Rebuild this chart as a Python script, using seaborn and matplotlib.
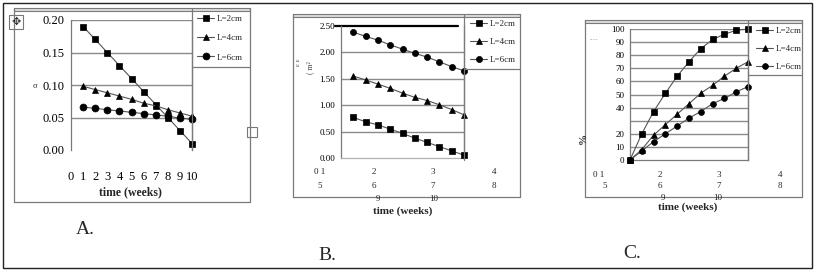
import numpy as np
import pandas as pd
import matplotlib
matplotlib.use("Agg")
import matplotlib.pyplot as plt
import seaborn as sns
from matplotlib.lines import Line2D
from matplotlib.patches import Rectangle

# ---------------- data ----------------
weeks = [1, 2, 3, 4, 5, 6, 7, 8, 9, 10]
series_labels = ["L=2cm", "L=4cm", "L=6cm"]

a_L2 = [0.19, 0.17, 0.15, 0.13, 0.11, 0.09, 0.07, 0.05, 0.03, 0.01]
a_L4 = [0.098, 0.093, 0.088, 0.083, 0.078, 0.072, 0.068, 0.062, 0.057, 0.052]
a_L6 = [0.066, 0.064, 0.062, 0.060, 0.058, 0.056, 0.054, 0.052, 0.049, 0.047]

b_L2 = [0.77, 0.69, 0.63, 0.55, 0.47, 0.38, 0.30, 0.22, 0.14, 0.06]
b_L4 = [1.55, 1.48, 1.40, 1.32, 1.23, 1.15, 1.09, 1.01, 0.92, 0.82]
b_L6 = [2.38, 2.30, 2.23, 2.14, 2.06, 1.98, 1.91, 1.82, 1.73, 1.65]

c_weeks = [0, 1, 2, 3, 4, 5, 6, 7, 8, 9, 10]
c_L2 = [0, 20, 37, 51, 64, 75, 85, 92, 96, 99, 100]
c_L4 = [0, 8, 19, 27, 35, 43, 51, 57, 64, 70, 75]
c_L6 = [0, 7, 14, 20, 26, 32, 37, 43, 47, 52, 56]

a_xticks = [0, 1, 2, 3, 4, 5, 6, 7, 8, 9, 10]
a_yticks = [0.00, 0.05, 0.10, 0.15, 0.20]
b_yticks = [0.0, 0.5, 1.0, 1.5, 2.0, 2.5]
c_yticks = [0, 10, 20, 30, 40, 50, 60, 70, 80, 90, 100]
c_yticklabels = ["0", "10", "20", "", "40", "50", "60", "70", "80", "90", "100"]
garbled_row1 = ["0 1", "2", "3", "4"]
garbled_row2 = ["5", "6", "7", "8"]
garbled_row3 = ["9", "10"]

# ---------------- setup ----------------
sns.set_theme(style="white")
plt.rcParams["font.family"] = ["Liberation Serif", "DejaVu Sans"]

W, H = 818, 272
fig = plt.figure(figsize=(W / 100, H / 100), dpi=100)
fig.patch.set_facecolor("white")

GRID = "#8a8a8a"
FRAME = "#7a7a7a"
LINEC = "#555555"


def fx(px):
    return px / W


def fy(py):
    return 1 - py / H


def add_ax(l, t, r, b):
    return fig.add_axes([l / W, 1 - b / H, (r - l) / W, (b - t) / H])


def fline(x0, y0, x1, y1, color=FRAME, lw=0.9):
    fig.add_artist(Line2D([fx(x0), fx(x1)], [fy(y0), fy(y1)],
                          transform=fig.transFigure, color=color, lw=lw))


def frame(l, t, r, b):
    fig.add_artist(Rectangle((fx(l), fy(t + 3)), (r - l) / W, 3 / H,
                             transform=fig.transFigure, facecolor="#dcdcdc",
                             edgecolor=FRAME, lw=0.8))
    fline(l, t, l, b)
    fline(l, b, r, b)
    fline(r, t, r, b)


def draw_series(ax, x, ys, ms):
    markers = ["s", "^", "o"]
    for y, m, lab in zip(ys, markers, series_labels):
        sns.lineplot(x=x, y=y, ax=ax, marker=m, color=LINEC, lw=0.8,
                     markerfacecolor="black", markeredgecolor="black",
                     markeredgewidth=0.5, markersize=ms, label=lab,
                     legend=False, clip_on=False, zorder=3)


def style_ax(ax, fs):
    ax.set_facecolor("none")
    ax.grid(False)
    for s in ax.spines.values():
        s.set_color(FRAME)
        s.set_linewidth(0.9)
    ax.spines["top"].set_visible(False)
    ax.tick_params(axis="both", labelsize=fs, colors="black", length=4,
                   width=0.8, color=GRID, direction="out")
    ax.set_xlabel("")
    ax.set_ylabel("")


def legend_at(ax, x, y, fs, spacing):
    h, l = ax.get_legend_handles_labels()
    ax.legend(h, l, loc="upper left", bbox_to_anchor=(fx(x), fy(y)),
              bbox_transform=fig.transFigure, frameon=False, fontsize=fs,
              borderpad=0, borderaxespad=0, handlelength=1.9,
              handletextpad=0.25, labelspacing=spacing)


# outer border
fig.add_artist(Rectangle((fx(3), fy(268)), (812 - 3) / W, (268 - 3) / H,
                         transform=fig.transFigure, facecolor="none",
                         edgecolor="#222222", lw=1.0))

# ---------------- panel A ----------------
frame(14, 8, 250, 202)
axA = add_ax(71, 20, 192, 150)
draw_series(axA, weeks, [a_L2, a_L4, a_L6], 5.0)
axA.set_xlim(0, 10)
axA.set_ylim(0, 0.2)
axA.set_xticks(a_xticks)
axA.set_yticks(a_yticks)
axA.set_yticklabels([f"{v:.2f}" for v in a_yticks])
for v in a_yticks[1:]:
    axA.axhline(v, color=GRID, lw=1.0, zorder=0)
style_ax(axA, 9)
axA.spines["bottom"].set_visible(False)
axA.tick_params(axis="x", length=0, pad=15)
axA.tick_params(axis="y", pad=1)
legend_at(axA, 197, 15, 6.5, 1.2)
fline(192, 8, 192, 150)
fline(192, 67, 250, 67)
fig.text(fx(35), fy(86), "σ", fontsize=6, ha="center", va="center")
fig.text(fx(130), fy(192), "time (weeks)", fontsize=8.5, fontweight="bold",
         ha="center", va="center")
fig.text(fx(85), fy(230), "A.", fontsize=14, ha="center", va="center")
# table handle icon and resize handle
fig.add_artist(Rectangle((fx(9), fy(29)), 14 / W, 14 / H,
                         transform=fig.transFigure, facecolor="white",
                         edgecolor="#777777", lw=0.8))
fig.text(fx(16), fy(22), "✥", fontsize=8, ha="center", va="center",
         family=["DejaVu Sans"], color="#333333")
fig.add_artist(Rectangle((fx(247), fy(137)), 10 / W, 10 / H,
                         transform=fig.transFigure, facecolor="white",
                         edgecolor="#777777", lw=0.8))

# ---------------- panel B ----------------
frame(293, 14, 520, 197)
axB = add_ax(341, 25.8, 464, 158.3)
draw_series(axB, weeks, [b_L2, b_L4, b_L6], 4.4)
axB.set_xlim(0, 10)
axB.set_ylim(0, 2.5)
axB.set_yticks(b_yticks)
axB.set_yticklabels([f"{v:.2f}" for v in b_yticks])
axB.set_xticks([])
for v in b_yticks[1:-1]:
    axB.axhline(v, color=GRID, lw=1.0, zorder=0)
axB.plot([-0.5, 9.5], [2.5, 2.5], color="black", lw=1.6, clip_on=False,
         zorder=1)
style_ax(axB, 6.5)
axB.tick_params(axis="y", pad=1, length=3)
axB.spines["bottom"].set_color("#b0b0b0")
legend_at(axB, 470, 20, 6.5, 1.05)
fline(464, 14, 464, 160)
fline(464, 69, 520, 69)
for lab, px in zip(garbled_row1, [320, 374, 433, 494]):
    fig.text(fx(px), fy(172), lab, fontsize=6.5, ha="center", va="center")
for lab, px in zip(garbled_row2, [320, 374, 433, 494]):
    fig.text(fx(px), fy(186), lab, fontsize=6.5, ha="center", va="center")
for lab, px in zip(garbled_row3, [378, 434]):
    fig.text(fx(px), fy(199), lab, fontsize=6.5, ha="center", va="center")
fig.text(fx(298), fy(62), "ε ε", fontsize=5, rotation=90, ha="center",
         va="center", color="#444444")
fig.text(fx(310), fy(68), "( m²", fontsize=5.5, rotation=90, ha="center",
         va="center", color="#444444")
fig.text(fx(403), fy(211), "time (weeks)", fontsize=8, fontweight="bold",
         ha="center", va="center")
fig.text(fx(327), fy(255), "B.", fontsize=14, ha="center", va="center")

# ---------------- panel C ----------------
frame(585, 20, 802, 197)
axC = add_ax(630, 29, 748, 160)
draw_series(axC, c_weeks, [c_L2, c_L4, c_L6], 4.2)
axC.set_xlim(0, 10)
axC.set_ylim(0, 100)
axC.set_yticks(c_yticks)
axC.set_yticklabels(c_yticklabels)
axC.set_xticks(c_weeks)
axC.set_xticklabels([])
for v in c_yticks[1:]:
    axC.axhline(v, color=GRID, lw=1.0, zorder=0)
style_ax(axC, 6.5)
axC.tick_params(axis="y", pad=1, length=3)
axC.tick_params(axis="x", length=3, color=FRAME)
legend_at(axC, 756, 27, 6.5, 1.05)
fline(748, 20, 748, 160)
fline(748, 75, 802, 75)
for lab, px in zip(garbled_row1, [599, 660, 719, 780]):
    fig.text(fx(px), fy(175), lab, fontsize=6.5, ha="center", va="center")
for lab, px in zip(garbled_row2, [605, 660, 719, 780]):
    fig.text(fx(px), fy(186), lab, fontsize=6.5, ha="center", va="center")
for lab, px in zip(garbled_row3, [663, 718]):
    fig.text(fx(px), fy(198), lab, fontsize=6.5, ha="center", va="center")
fig.text(fx(583), fy(138), "%", fontsize=8, fontweight="bold", rotation=90,
         ha="center", va="center")
fig.text(fx(594), fy(39), ".....", fontsize=5, color="#777777",
         ha="center", va="center")
fig.text(fx(688), fy(207), "time (weeks)", fontsize=8, fontweight="bold",
         ha="center", va="center")
fig.text(fx(632), fy(253), "C.", fontsize=14, ha="center", va="center")

fig.savefig("out.png", dpi=100, facecolor="white")
